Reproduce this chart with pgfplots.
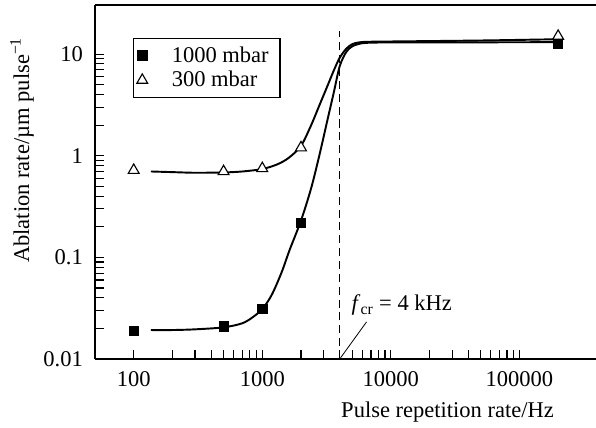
\documentclass[border=0pt]{standalone}
\usepackage{pgfplots}
\pgfplotsset{compat=1.18}
\usepackage{fontspec}
\setmainfont{Liberation Serif}

\begin{document}
\begin{tikzpicture}
\begin{axis}[
  xmode=log, ymode=log,
  scale only axis, width=311.6pt, height=220.2pt,
  xmin=50, xmax=3.94e5, ymin=0.01, ymax=30.4,
  axis x line*=box, axis y line*=left,
  axis line style={-, line width=0.8pt},
  tick pos=left, tick align=inside,
  major tick length=5.6pt, minor tick length=5.6pt,
  every tick/.style={black, line width=0.7pt},
  xtick={100,1000,10000,100000}, xticklabels={100,1000,10000,100000},
  ytick={0.01,0.1,1,10}, yticklabels={0.01,0.1,1,10},
  /pgf/number format/assume math mode=true,
  tick label style={font=\fontsize{14}{16}\selectfont},
  xticklabel style={yshift=-4pt},
  yticklabel style={xshift=-4pt},
  xlabel={Pulse repetition rate/Hz},
  ylabel={Ablation rate/µm pulse\textsuperscript{−1}},
  label style={font=\fontsize{14}{16}\selectfont},
  xlabel style={at={(rel axis cs:0.7036,-0.1497)}, anchor=center},
  ylabel style={at={(rel axis cs:-0.1457,0.59)}, anchor=center},
  legend style={at={(rel axis cs:0.0758,0.9068)}, anchor=north west,
    draw=black, line width=0.8pt, font=\fontsize{14}{16}\selectfont,
    inner xsep=2pt, inner ysep=3pt, row sep=0pt, column sep=10pt,
    nodes={inner xsep=5pt}},
  legend cell align=left,
  clip=false,
]
% fitted curves
\addplot[black, line width=1.2pt, smooth, forget plot] coordinates {
(136,0.70) (200,0.69) (300,0.68) (500,0.685) (700,0.70) (1000,0.74)
(1300,0.82) (1600,0.95) (2000,1.25) (2400,2.0) (2800,3.2) (3200,4.8)
(3600,6.9) (4000,9.2) (4500,11.3) (5000,12.5) (5600,13.0) (6500,13.2)
(10000,13.3) (50000,13.6) (200000,14.0)};
\addplot[black, line width=1.2pt, smooth, forget plot] coordinates {
(136,0.0193) (200,0.0193) (300,0.0196) (500,0.0205) (700,0.0225)
(850,0.026) (1000,0.031) (1150,0.040) (1265,0.051) (1436,0.075)
(1630,0.118) (2000,0.23) (2400,0.48) (2800,1.05) (3200,2.2)
(3600,4.2) (4000,7.6) (4500,10.5) (5000,11.9) (5800,12.7)
(7000,12.95) (10000,13.0) (50000,13.05) (200000,13.1)};
% data
\addplot[only marks, mark=square*, mark size=2.9pt, black] coordinates {
(100,0.019) (500,0.021) (1000,0.031) (2000,0.22) (200000,12.8)};
\addlegendentry{1000 mbar}
\addplot[only marks, mark=triangle*, mark size=3.9pt, black, fill=white, line width=0.7pt] coordinates {
(100,0.72) (500,0.70) (1000,0.75) (2000,1.2) (200000,15)};
\addlegendentry{300 mbar}
% critical frequency
\draw[black, line width=0.8pt, dash pattern=on 5pt off 3pt] (axis cs:4000,0.01) -- (axis cs:4000,17);
\draw[black, line width=0.5pt] (axis cs:4000,0.01) -- (axis cs:6470,0.0232);
\node[anchor=west, inner sep=0pt, font=\fontsize{14}{16}\selectfont] at (axis cs:4930,0.034)
  {\textit{f}\textsubscript{cr} = 4 kHz};
\coordinate (bl) at (rel axis cs:-0.1896,-0.1921);
\coordinate (tr) at (rel axis cs:1,1.0141);
\end{axis}
\pgfresetboundingbox
\path[use as bounding box] (bl) rectangle (tr);
\end{tikzpicture}
\end{document}
